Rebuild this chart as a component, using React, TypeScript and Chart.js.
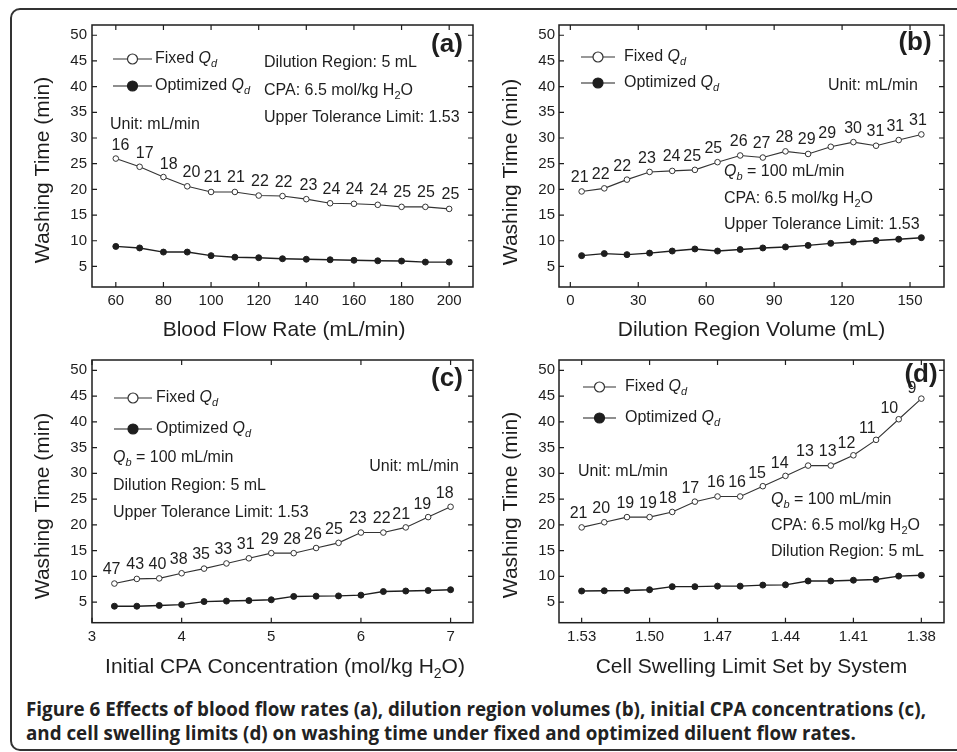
import React, { useEffect, useRef } from "react";
import { Chart, registerables } from "chart.js";

Chart.register(...registerables);

const FONT = '"Liberation Sans", Arial, Helvetica, sans-serif';
const INK = "#1e1e1e";
const INK_FIXED = "#333333";

// ---- shared y axis ----
const Y_MIN = 1;
const Y_MAX = 52;
const Y_TICKS = [5, 10, 15, 20, 25, 30, 35, 40, 45, 50];

// ---- (a) blood flow rate ----
const A_X = [60, 70, 80, 90, 100, 110, 120, 130, 140, 150, 160, 170, 180, 190, 200];
const A_FIXED = [26.0, 24.4, 22.4, 20.6, 19.5, 19.5, 18.8, 18.7, 18.1, 17.3, 17.2, 17.0, 16.6, 16.6, 16.2];
const A_OPT = [8.9, 8.6, 7.8, 7.8, 7.1, 6.8, 6.7, 6.5, 6.4, 6.3, 6.2, 6.1, 6.05, 5.85, 5.85];
const A_QD = ["16", "17", "18", "20", "21", "21", "22", "22", "23", "24", "24", "24", "25", "25", "25"];
const A_XTICKS = [60, 80, 100, 120, 140, 160, 180, 200];

// ---- (b) dilution region volume ----
const B_X = [5, 15, 25, 35, 45, 55, 65, 75, 85, 95, 105, 115, 125, 135, 145, 155];
const B_FIXED = [19.6, 20.2, 21.9, 23.4, 23.6, 23.8, 25.3, 26.6, 26.2, 27.4, 26.9, 28.3, 29.2, 28.5, 29.6, 30.7];
const B_OPT = [7.1, 7.5, 7.3, 7.6, 8.0, 8.4, 8.0, 8.3, 8.6, 8.8, 9.1, 9.5, 9.75, 10.05, 10.3, 10.6];
const B_QD = ["21", "22", "22", "23", "24", "25", "25", "26", "27", "28", "29", "29", "30", "31", "31", "31"];
const B_XTICKS = [0, 30, 60, 90, 120, 150];

// ---- (c) initial CPA concentration ----
const C_X = [3.25, 3.5, 3.75, 4.0, 4.25, 4.5, 4.75, 5.0, 5.25, 5.5, 5.75, 6.0, 6.25, 6.5, 6.75, 7.0];
const C_FIXED = [8.6, 9.5, 9.6, 10.6, 11.5, 12.5, 13.5, 14.5, 14.5, 15.5, 16.5, 18.5, 18.5, 19.5, 21.5, 23.5];
const C_OPT = [4.2, 4.2, 4.35, 4.5, 5.1, 5.2, 5.3, 5.45, 6.1, 6.15, 6.2, 6.35, 7.05, 7.15, 7.25, 7.4];
const C_QD = ["47", "43", "40", "38", "35", "33", "31", "29", "28", "26", "25", "23", "22", "21", "19", "18"];
const C_XTICKS = [3, 4, 5, 6, 7];

// ---- (d) cell swelling limit ----
const D_X = [1.53, 1.52, 1.51, 1.5, 1.49, 1.48, 1.47, 1.46, 1.45, 1.44, 1.43, 1.42, 1.41, 1.4, 1.39, 1.38];
const D_FIXED = [19.5, 20.5, 21.5, 21.5, 22.5, 24.5, 25.5, 25.5, 27.5, 29.5, 31.5, 31.5, 33.5, 36.5, 40.5, 44.5];
const D_OPT = [7.15, 7.2, 7.25, 7.4, 8.0, 8.0, 8.1, 8.1, 8.3, 8.35, 9.1, 9.1, 9.25, 9.4, 10.05, 10.2];
const D_QD = ["21", "20", "19", "19", "18", "17", "16", "16", "15", "14", "13", "13", "12", "11", "10", "9"];
const D_XTICKS = [1.53, 1.5, 1.47, 1.44, 1.41, 1.38];

// ---- texts ----
type Seg = { t: string; it?: boolean; sub?: boolean; b?: boolean };
const Y_TITLE: Seg[] = [{ t: "Washing Time (min)" }];
const LEG_FIXED: Seg[] = [{ t: "Fixed " }, { t: "Q", it: true }, { t: "d", it: true, sub: true }];
const LEG_OPT: Seg[] = [{ t: "Optimized " }, { t: "Q", it: true }, { t: "d", it: true, sub: true }];
const T_UNIT: Seg[] = [{ t: "Unit: mL/min" }];
const T_DIL: Seg[] = [{ t: "Dilution Region: 5 mL" }];
const T_CPA: Seg[] = [{ t: "CPA: 6.5 mol/kg H" }, { t: "2", sub: true }, { t: "O" }];
const T_UTL: Seg[] = [{ t: "Upper Tolerance Limit: 1.53" }];
const T_QB: Seg[] = [{ t: "Q", it: true }, { t: "b", it: true, sub: true }, { t: " = 100 mL/min" }];
const CAPTION_1 = "Effects of blood flow rates (a), dilution region volumes (b), initial CPA concentrations (c),";
const CAPTION_2 = "and cell swelling limits (d) on washing time under fixed and optimized diluent flow rates.";

type Note = { segs: Seg[]; x: number; y: number; align: "left" | "right" | "center" };
type Panel = {
  left: number; top: number; width: number; height: number;
  area: { left: number; top: number; right: number; bottom: number };
  x: number[]; fixed: number[]; opt: number[]; qd: string[];
  xTicks: number[]; xMin: number; xMax: number; reverse: boolean; decimals: number;
  yPad: number;
  xTitle: Seg[]; xTitlePos: [number, number];
  yTitlePos: [number, number];
  tag: string; tagPos: [number, number];
  legend: { x1: number; x2: number; tx: number; y1: number; y2: number };
  notes: Note[];
};

const PANELS: Panel[] = [
  {
    left: 0, top: 0, width: 478, height: 345,
    area: { left: 92, top: 25, right: 476, bottom: 287 },
    x: A_X, fixed: A_FIXED, opt: A_OPT, qd: A_QD,
    xTicks: A_XTICKS, xMin: 50, xMax: 210, reverse: false, decimals: 0, yPad: 5,
    xTitle: [{ t: "Blood Flow Rate (mL/min)" }], xTitlePos: [284, 330],
    yTitlePos: [43, 170],
    tag: "(a)", tagPos: [447, 45],
    legend: { x1: 113, x2: 152, tx: 155, y1: 59, y2: 86 },
    notes: [
      { segs: T_DIL, x: 264, y: 63, align: "left" },
      { segs: T_CPA, x: 264, y: 91, align: "left" },
      { segs: T_UTL, x: 264, y: 118, align: "left" },
      { segs: T_UNIT, x: 110, y: 125, align: "left" },
    ],
  },
  {
    left: 478, top: 0, width: 479, height: 345,
    area: { left: 81, top: 25, right: 466, bottom: 287 },
    x: B_X, fixed: B_FIXED, opt: B_OPT, qd: B_QD,
    xTicks: B_XTICKS, xMin: -5, xMax: 165, reverse: false, decimals: 0, yPad: 4,
    xTitle: [{ t: "Dilution Region Volume (mL)" }], xTitlePos: [273.5, 330],
    yTitlePos: [33, 172],
    tag: "(b)", tagPos: [437, 43],
    legend: { x1: 103, x2: 137, tx: 146, y1: 57, y2: 83 },
    notes: [
      { segs: T_UNIT, x: 350, y: 86, align: "left" },
      { segs: T_QB, x: 246, y: 172, align: "left" },
      { segs: T_CPA, x: 246, y: 199, align: "left" },
      { segs: T_UTL, x: 246, y: 225, align: "left" },
    ],
  },
  {
    left: 0, top: 335, width: 478, height: 345,
    area: { left: 92, top: 25, right: 476, bottom: 287.7 },
    x: C_X, fixed: C_FIXED, opt: C_OPT, qd: C_QD,
    xTicks: C_XTICKS, xMin: 3, xMax: 7.25, reverse: false, decimals: 0, yPad: 5,
    xTitle: [{ t: "Initial CPA Concentration (mol/kg H" }, { t: "2", sub: true }, { t: "O)" }],
    xTitlePos: [285, 332],
    yTitlePos: [43, 171],
    tag: "(c)", tagPos: [447, 44],
    legend: { x1: 114, x2: 152, tx: 156, y1: 63, y2: 94 },
    notes: [
      { segs: T_QB, x: 113, y: 123, align: "left" },
      { segs: T_DIL, x: 113, y: 151, align: "left" },
      { segs: T_UTL, x: 113, y: 178, align: "left" },
      { segs: T_UNIT, x: 459, y: 132, align: "right" },
    ],
  },
  {
    left: 478, top: 335, width: 479, height: 345,
    area: { left: 81, top: 25, right: 466, bottom: 287.7 },
    x: D_X, fixed: D_FIXED, opt: D_OPT, qd: D_QD,
    xTicks: D_XTICKS, xMin: 1.37, xMax: 1.54, reverse: true, decimals: 2, yPad: 4,
    xTitle: [{ t: "Cell Swelling Limit Set by System" }], xTitlePos: [273.5, 332],
    yTitlePos: [33, 170],
    tag: "(d)", tagPos: [443, 40],
    legend: { x1: 105, x2: 138, tx: 147, y1: 52, y2: 83 },
    notes: [
      { segs: T_UNIT, x: 100, y: 137, align: "left" },
      { segs: T_QB, x: 293, y: 165, align: "left" },
      { segs: T_CPA, x: 293, y: 191, align: "left" },
      { segs: T_DIL, x: 293, y: 217, align: "left" },
    ],
  },
];

function segFont(s: Seg, size: number) {
  const sz = s.sub ? Math.round(size * 0.66) : size;
  return `${s.it ? "italic " : ""}${s.b ? "bold " : ""}${sz}px ${FONT}`;
}
function richWidth(ctx: CanvasRenderingContext2D, segs: Seg[], size: number) {
  let w = 0;
  for (const s of segs) {
    ctx.font = segFont(s, size);
    w += ctx.measureText(s.t).width;
  }
  return w;
}
function drawRich(ctx: CanvasRenderingContext2D, segs: Seg[], x: number, y: number, size: number, align: string) {
  const w = richWidth(ctx, segs, size);
  let cx = align === "left" ? x : align === "right" ? x - w : x - w / 2;
  ctx.textAlign = "left";
  ctx.textBaseline = "middle";
  for (const s of segs) {
    ctx.font = segFont(s, size);
    ctx.fillText(s.t, cx, y + (s.sub ? size * 0.32 : 0));
    cx += ctx.measureText(s.t).width;
  }
}

function decorPlugin(p: Panel) {
  return {
    id: "decor",
    afterDraw(chart: any) {
      const ctx: CanvasRenderingContext2D = chart.ctx;
      const { left, top, right, bottom } = chart.chartArea;
      const xs = chart.scales.x;
      const ys = chart.scales.y;
      ctx.save();
      ctx.strokeStyle = INK;
      ctx.fillStyle = INK;
      // frame
      ctx.lineWidth = 1.5;
      ctx.strokeRect(left, top, right - left, bottom - top);
      // inward ticks on all sides
      ctx.lineWidth = 1.2;
      const TL = 5;
      ctx.beginPath();
      for (const v of p.xTicks) {
        const px = xs.getPixelForValue(v);
        ctx.moveTo(px, bottom); ctx.lineTo(px, bottom - TL);
        ctx.moveTo(px, top); ctx.lineTo(px, top + TL);
      }
      for (const v of Y_TICKS) {
        const py = ys.getPixelForValue(v);
        ctx.moveTo(left, py); ctx.lineTo(left + TL, py);
        ctx.moveTo(right, py); ctx.lineTo(right - TL, py);
      }
      ctx.stroke();
      // legend
      const L = p.legend;
      const mx = (L.x1 + L.x2) / 2;
      [L.y1, L.y2].forEach((yy, k) => {
        ctx.strokeStyle = k === 0 ? INK_FIXED : INK;
        ctx.beginPath();
        ctx.lineWidth = 1.2;
        ctx.moveTo(L.x1, yy); ctx.lineTo(L.x2, yy);
        ctx.stroke();
        ctx.beginPath();
        ctx.arc(mx, yy, 5, 0, Math.PI * 2);
        ctx.fillStyle = k === 0 ? "#ffffff" : INK;
        ctx.fill();
        ctx.stroke();
        ctx.fillStyle = INK;
        drawRich(ctx, k === 0 ? LEG_FIXED : LEG_OPT, L.tx, yy, 16, "left");
      });
      ctx.strokeStyle = INK;
      // tag
      ctx.font = `bold 26px ${FONT}`;
      ctx.textAlign = "center";
      ctx.textBaseline = "middle";
      ctx.fillText(p.tag, p.tagPos[0], p.tagPos[1]);
      // notes
      for (const n of p.notes) drawRich(ctx, n.segs, n.x, n.y, 16, n.align);
      // point labels (diluent flow rates) on fixed series
      const pts = chart.getDatasetMeta(0).data;
      ctx.font = `16px ${FONT}`;
      ctx.textAlign = "center";
      ctx.textBaseline = "middle";
      pts.forEach((pt: any, i: number) => {
        const a = pts[Math.max(0, i - 1)];
        const b = pts[Math.min(pts.length - 1, i + 1)];
        let dx = b.x - a.x;
        let dy = b.y - a.y;
        const len = Math.hypot(dx, dy) || 1;
        dx /= len; dy /= len;
        const d = 14;
        ctx.fillText(p.qd[i], pt.x + dy * d, pt.y - dx * d);
      });
      // axis titles
      drawRich(ctx, p.xTitle, p.xTitlePos[0], p.xTitlePos[1], 21, "center");
      ctx.save();
      ctx.translate(p.yTitlePos[0], p.yTitlePos[1]);
      ctx.rotate(-Math.PI / 2);
      drawRich(ctx, Y_TITLE, 0, 0, 21, "center");
      ctx.restore();
      ctx.restore();
    },
  };
}

function PanelChart({ p }: { p: Panel }) {
  const ref = useRef<HTMLCanvasElement | null>(null);
  useEffect(() => {
    if (!ref.current) return;
    const tickFont = { size: 15, family: FONT };
    const chart = new Chart(ref.current, {
      type: "line",
      data: {
        datasets: [
          {
            label: "Fixed Qd",
            data: p.x.map((x, i) => ({ x, y: p.fixed[i] })),
            borderColor: INK_FIXED,
            borderWidth: 1.1,
            pointRadius: 2.8,
            pointBorderWidth: 1,
            pointBackgroundColor: "#ffffff",
            pointBorderColor: INK_FIXED,
            tension: 0,
            fill: false,
          },
          {
            label: "Optimized Qd",
            data: p.x.map((x, i) => ({ x, y: p.opt[i] })),
            borderColor: INK,
            borderWidth: 1.4,
            pointRadius: 3,
            pointBorderWidth: 1,
            pointBackgroundColor: INK,
            pointBorderColor: INK,
            tension: 0,
            fill: false,
          },
        ],
      },
      options: {
        responsive: false,
        animation: false,
        devicePixelRatio: 1,
        layout: { padding: { left: 0, top: p.area.top, right: p.width - p.area.right, bottom: 0 } },
        plugins: { legend: { display: false }, tooltip: { enabled: false }, title: { display: false } },
        scales: {
          x: {
            type: "linear",
            min: p.xMin,
            max: p.xMax,
            reverse: p.reverse,
            grid: { display: false, drawTicks: false },
            border: { display: false },
            ticks: {
              font: tickFont,
              color: INK,
              padding: 5,
              autoSkip: false,
              maxRotation: 0,
              callback: (v: any) => Number(v).toFixed(p.decimals),
            },
            afterBuildTicks: (s: any) => {
              s.ticks = p.xTicks.map((v) => ({ value: v }));
            },
            afterFit: (s: any) => {
              s.height = p.height - p.area.bottom;
            },
          },
          y: {
            type: "linear",
            min: Y_MIN,
            max: Y_MAX,
            grid: { display: false, drawTicks: false },
            border: { display: false },
            ticks: { font: tickFont, color: INK, padding: p.yPad },
            afterBuildTicks: (s: any) => {
              s.ticks = Y_TICKS.map((v) => ({ value: v }));
            },
            afterFit: (s: any) => {
              s.width = p.area.left;
            },
          },
        },
      } as any,
      plugins: [decorPlugin(p)],
    });
    return () => chart.destroy();
  }, [p]);
  return (
    <canvas
      ref={ref}
      width={p.width}
      height={p.height}
      style={{ position: "absolute", left: p.left, top: p.top, width: p.width, height: p.height }}
    />
  );
}

export default function App() {
  return (
    <div
      style={{
        position: "fixed",
        left: 0,
        top: 0,
        width: 957,
        height: 752,
        overflow: "hidden",
        background: "#ffffff",
      }}
    >
      <div
        style={{
          position: "absolute",
          left: 10,
          top: 8,
          width: 1000,
          height: 743,
          boxSizing: "border-box",
          border: "2px solid #333333",
          borderRadius: 10,
        }}
      />
      {PANELS.map((p, i) => (
        <PanelChart key={i} p={p} />
      ))}
      <div
        style={{
          position: "absolute",
          left: 26,
          top: 697,
          whiteSpace: "nowrap",
          font: 'bold 18.8px "Open Sans", "Noto Sans", sans-serif',
          lineHeight: "24px",
          color: "#222222",
        }}
      >
        <span>Figure 6</span> {CAPTION_1}
        <br />
        {CAPTION_2}
      </div>
    </div>
  );
}
